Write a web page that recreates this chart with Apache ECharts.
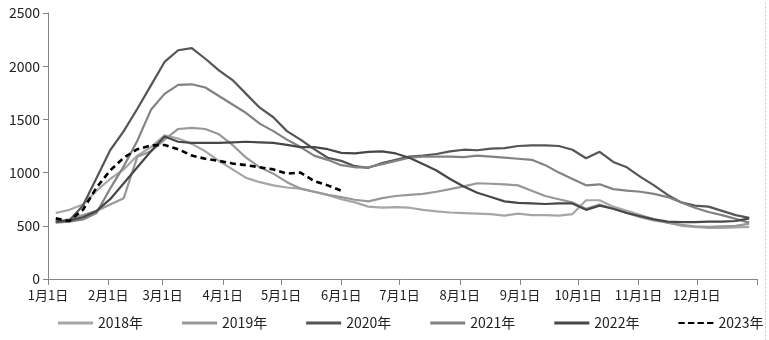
<!DOCTYPE html>
<html>
<head>
<meta charset="utf-8">
<script src="https://cdn.jsdelivr.net/npm/echarts@6/dist/echarts.min.js"></script>
<style>
  html, body { margin: 0; padding: 0; background: #fff; }
  #chart { width: 769px; height: 340px; }
</style>
</head>
<body>
<div id="chart"></div>
<script>
// Month boundaries (day of year) and their labels
const monthStartDays = [0, 31, 59, 90, 120, 151, 181, 212, 243, 273, 304, 334, 365];
const monthLabels = ['1月1日', '2月1日', '3月1日', '4月1日', '5月1日', '6月1日',
  '7月1日', '8月1日', '9月1日', '10月1日', '11月1日', '12月1日'];

// Weekly observations: first report on day 4, then every 7 days
const weekDays = Array.from({ length: 52 }, (_, i) => 4 + 7 * i);

const years = ['2018年', '2019年', '2020年', '2021年', '2022年', '2023年'];

const v2018 = [620, 650, 700, 830, 940, 1030, 1160, 1240, 1350, 1320, 1270, 1200, 1110,
  1030, 950, 910, 880, 860, 850, 820, 790, 750, 720, 680, 670, 675, 670, 650, 635, 625,
  620, 615, 610, 595, 615, 600, 600, 595, 610, 740, 740, 680, 640, 600, 560, 530, 500,
  490, 480, 480, 485, 490];
const v2019 = [540, 560, 600, 640, 700, 760, 1150, 1200, 1310, 1410, 1420, 1410, 1360,
  1260, 1140, 1050, 990, 910, 850, 820, 790, 770, 745, 730, 760, 780, 790, 800, 820, 845,
  870, 900, 895, 890, 880, 830, 780, 750, 720, 660, 700, 660, 620, 580, 550, 530, 510,
  495, 490, 495, 500, 520];
const v2020 = [540, 550, 690, 950, 1210, 1390, 1600, 1820, 2040, 2150, 2170, 2070, 1960,
  1870, 1740, 1610, 1520, 1390, 1310, 1220, 1140, 1110, 1060, 1045, 1090, 1120, 1150,
  1160, 1175, 1200, 1215, 1210, 1225, 1230, 1250, 1255, 1255, 1250, 1215, 1135, 1195,
  1100, 1050, 960, 880, 790, 720, 690, 680, 640, 600, 575];
const v2021 = [530, 540, 560, 620, 850, 1060, 1300, 1590, 1740, 1825, 1830, 1800, 1720,
  1640, 1560, 1460, 1390, 1310, 1240, 1160, 1120, 1070, 1050, 1050, 1080, 1110, 1140,
  1150, 1150, 1150, 1145, 1160, 1150, 1140, 1130, 1120, 1070, 1000, 940, 880, 890, 845,
  830, 820, 800, 770, 720, 670, 630, 600, 565, 530];
const v2022 = [540, 550, 580, 640, 750, 900, 1050, 1200, 1340, 1290, 1280, 1280, 1280,
  1285, 1290, 1285, 1280, 1260, 1240, 1240, 1220, 1185, 1180, 1195, 1200, 1180, 1140,
  1080, 1020, 940, 870, 810, 770, 730, 715, 710, 705, 710, 710, 650, 690, 660, 620, 590,
  560, 540, 535, 535, 540, 540, 545, 570];
const v2023 = [570, 545, 650, 860, 1020, 1140, 1220, 1255, 1260, 1220, 1160, 1130, 1110,
  1085, 1070, 1050, 1030, 990, 1000, 920, 880, 830];

const seriesValues = [v2018, v2019, v2020, v2021, v2022, v2023];
const lineColors = ['#a6a6a6', '#989898', '#555555', '#828282', '#474747', '#000000'];

const fontFamily = '"Noto Sans CJK SC", "Noto Sans", sans-serif';

const chart = echarts.init(document.getElementById('chart'), null, { renderer: 'canvas' });

const series = years.map((name, k) => ({
  name: name,
  type: 'line',
  symbol: 'none',
  smooth: false,
  animation: false,
  data: seriesValues[k].map((v, i) => [weekDays[i], v]),
  lineStyle: {
    color: lineColors[k],
    width: k === 5 ? 2.6 : 2.2,
    type: k === 5 ? [6, 4] : 'solid'
  },
  itemStyle: { color: lineColors[k] },
  z: k === 5 ? 10 : 2 + k
}));

chart.setOption({
  animation: false,
  backgroundColor: '#ffffff',
  textStyle: { fontFamily: fontFamily },
  grid: { left: 48, right: 12, top: 13, bottom: 61, containLabel: false },
  legend: {
    data: years.map((name, k) => ({
      name: name,
      icon: k === 5
        ? 'path://M0,0 L6,0 L6,2 L0,2 Z M9,0 L15,0 L15,2 L9,2 Z M18,0 L24,0 L24,2 L18,2 Z M27,0 L33,0 L33,2 L27,2 Z'
        : 'rect'
    })),
    left: 53,
    width: 716,
    bottom: 5,
    itemWidth: 35,
    itemHeight: 3,
    itemGap: 39,
    textStyle: { fontSize: 14, color: '#222', fontFamily: fontFamily }
  },
  xAxis: {
    type: 'value',
    min: 0,
    max: 365,
    splitLine: { show: false },
    axisLine: { show: true, lineStyle: { color: '#868686', width: 1 } },
    axisTick: {
      show: true,
      length: 6,
      lineStyle: { color: '#868686' },
      customValues: monthStartDays
    },
    axisLabel: {
      customValues: monthStartDays.slice(0, 12),
      formatter: (val) => monthLabels[monthStartDays.indexOf(val)] || '',
      fontSize: 13,
      color: '#222',
      margin: 10,
      fontFamily: fontFamily
    }
  },
  yAxis: {
    type: 'value',
    min: 0,
    max: 2500,
    interval: 500,
    splitLine: { show: false },
    axisLine: { show: true, lineStyle: { color: '#868686', width: 1 } },
    axisTick: { show: true, length: 5, lineStyle: { color: '#868686' } },
    axisLabel: {
      fontSize: 14,
      color: '#222',
      margin: 8,
      fontFamily: fontFamily,
      formatter: (val) => String(val)
    }
  },
  graphic: [{
    type: 'line',
    right: 1,
    top: 0,
    shape: { x1: 0, y1: 0, x2: 0, y2: 340 },
    style: { stroke: '#c8c8c8', lineWidth: 1, lineDash: [2, 2] },
    silent: true
  }],
  series: series
});
</script>
</body>
</html>
